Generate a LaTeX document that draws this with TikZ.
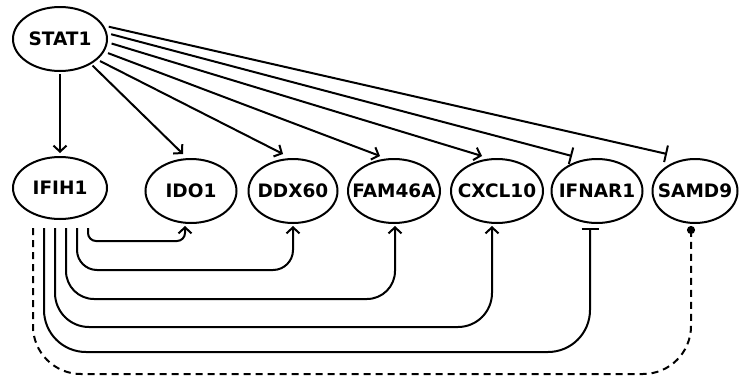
\documentclass[tikz,border=0pt]{standalone}
\usepackage{fontspec}
\setmainfont{DejaVu Sans}
\usetikzlibrary{shapes.geometric, arrows.meta, positioning}

% gene name without width of its own, so the ellipse keeps its set size
\newcommand{\gname}[1]{\makebox[0pt]{#1}}

\tikzset{
  gene/.style={ellipse, draw, line width=2pt, minimum width=91pt, minimum height=64pt,
    inner sep=0pt, font=\fontsize{18.5}{20}\selectfont\bfseries},
  act/.style={-{Straight Barb[length=6pt,width=13pt,line width=2pt]}, line width=2pt},
  inh/.style={-{Bar[width=17pt,line width=2pt]}, line width=2pt},
  dot/.style={-{Circle[length=8pt]}, line width=2pt, dash pattern=on 7pt off 5pt},
}

\begin{document}
\begin{tikzpicture}[x=1pt, y=-1pt]
        \useasboundingbox (0,0) rectangle (739,378);

        % Genes
        \node[gene, minimum width=94pt] (STAT1) at (60,39) {\gname{STAT1}};
        \node[gene, minimum width=94pt, minimum height=62pt] (IFIH1) at (60,188) {\gname{IFIH1}};
        \node[gene] (IDO1) at (191,191) {\gname{IDO1}};
        \node[gene, minimum width=89pt] (DDX60) at (293,191) {\gname{DDX60}};
        \node[gene, minimum width=92pt] (FAM46A) at (394,191) {\gname{FAM46A}};
        \node[gene, minimum width=92pt] (CXCL10) at (497,191) {\gname{CXCL10}};
        \node[gene] (IFNAR1) at (597,191) {\gname{IFNAR1}};
        \node[gene, minimum width=85pt] (SAMD9) at (695,191) {\gname{SAMD9}};

        % STAT1 targets
        \draw[act, shorten <=2pt, shorten >=3pt] (STAT1) -- (IFIH1);
        \draw[act, shorten <=2pt] (STAT1.-39) -- ([xshift=-8pt,yshift=4pt]IDO1.north);
        \draw[act, shorten <=3pt] (STAT1.-29) -- ([xshift=-10pt,yshift=4pt]DDX60.north);
        \draw[act, shorten <=4pt] (STAT1.-16) -- ([xshift=-14pt,yshift=2pt]FAM46A.north);
        \draw[act, shorten <=4pt] (STAT1.-4) -- ([xshift=-15pt,yshift=2pt]CXCL10.north);
        \draw[inh, shorten <=4pt] (STAT1.7) -- ([xshift=-25pt,yshift=2pt]IFNAR1.north);
        \draw[inh, shorten <=5pt] (STAT1.17) -- ([xshift=-28pt,yshift=4pt]SAMD9.north);

        % IFIH1 targets
        \draw[act, rounded corners=8pt] ([xshift=28pt,yshift=-8pt]IFIH1.south) -- ++(0,13) -| ([xshift=-6pt,yshift=-2pt]IDO1.south);
        \draw[act, rounded corners=20pt] ([xshift=17pt,yshift=-8pt]IFIH1.south) -- ++(0,42) -| ([yshift=-2pt]DDX60.south);
        \draw[act, rounded corners=28pt] ([xshift=6pt,yshift=-8pt]IFIH1.south) -- ++(0,71) -| ([xshift=1pt,yshift=-2pt]FAM46A.south);
        \draw[act, rounded corners=34pt] ([xshift=-5pt,yshift=-8pt]IFIH1.south) -- ++(0,99) -| ([xshift=-5pt,yshift=-2pt]CXCL10.south);
        \draw[inh, rounded corners=42pt] ([xshift=-16pt,yshift=-8pt]IFIH1.south) -- ++(0,124) -| ([xshift=-7pt,yshift=-4pt]IFNAR1.south);
        \draw[dot, rounded corners=48pt] ([xshift=-27pt,yshift=-8pt]IFIH1.south) -- ++(0,146) -| ([xshift=-4pt,yshift=-2pt]SAMD9.south);
      \end{tikzpicture}
\end{document}
